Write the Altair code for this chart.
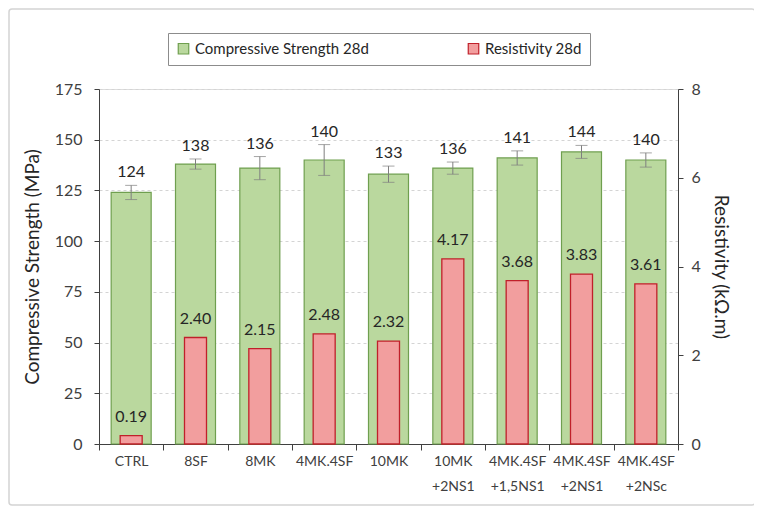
import altair as alt
import pandas as pd

categories = ["CTRL", "8SF", "8MK", "4MK.4SF", "10MK", "10MK +2NS1",
              "4MK.4SF +1,5NS1", "4MK.4SF +2NS1", "4MK.4SF +2NSc"]
strength = [124, 138, 136, 140, 133, 136, 141, 144, 140]
strength_err = [3.5, 2.5, 5.7, 7.6, 4.0, 3.0, 3.5, 3.2, 3.5]
resistivity = [0.19, 2.40, 2.15, 2.48, 2.32, 4.17, 3.68, 3.83, 3.61]
series = ["Compressive Strength 28d", "Resistivity 28d"]
left_ticks = [0, 25, 50, 75, 100, 125, 150, 175]
right_ticks = [0, 2, 4, 6, 8]

FILL = ["#bad89e", "#f29e9e"]
STROKE = ["#6f9f4f", "#c0202a"]
FONT = "Lato"
TXT = "#262626"
AX = "#404040"

W, H = 579, 355

df = pd.DataFrame({"cat": categories, "cs": strength, "err": strength_err, "res": resistivity})

x_enc = alt.X(
    "cat:N", sort=categories, title=None,
    scale=alt.Scale(paddingInner=0, paddingOuter=0),
    axis=alt.Axis(tickBand="extent", labelExpr="split(datum.label, ' ')",
                  labelAngle=0, labelFontSize=14, labelLineHeight=25,
                  labelColor=AX, labelPadding=4, tickSize=6, tickColor=AX,
                  domainColor=AX, labelOverlap=False, labelFont=FONT),
)

fill_scale = alt.Scale(domain=series, range=FILL)
stroke_scale = alt.Scale(domain=series, range=STROKE)
legend = alt.Legend(title=None, orient="none", legendX=69, legendY=-56,
                    direction="horizontal", strokeColor="#8c8c8c", padding=8,
                    symbolType="square", symbolSize=110, symbolStrokeWidth=1.2,
                    labelFontSize=15, labelFont=FONT, labelColor=TXT, labelLimit=400,
                    columnPadding=96, labelOffset=4)

ytitle_l = "Compressive Strength (MPa)"
y_left = alt.Scale(domain=[0, 175])

base_l = alt.Chart(df).transform_calculate(
    series=f"'{series[0]}'",
    lo="datum.cs - datum.err",
    hi="datum.cs + datum.err",
)

green = base_l.mark_bar(size=40, strokeWidth=1.2).encode(
    x=x_enc,
    y=alt.Y("cs:Q", scale=y_left, title=ytitle_l,
            axis=alt.Axis(values=left_ticks, grid=True, gridDash=[3, 3],
                          gridColor="#d4d4d4", labelFontSize=16, labelColor=AX,
                          labelFont=FONT, labelPadding=12, tickSize=5, tickColor=AX,
                          domainColor=AX, titleFontSize=19, titleFont=FONT,
                          titleFontWeight="normal", titleColor=TXT, titlePadding=12)),
    fill=alt.Fill("series:N", scale=fill_scale, legend=legend),
    stroke=alt.Stroke("series:N", scale=stroke_scale, legend=legend),
)
err_rule = base_l.mark_rule(color="#7f7f7f", strokeWidth=1).encode(
    x=x_enc, y=alt.Y("lo:Q", scale=y_left, title=ytitle_l), y2="hi:Q")
cap_hi = base_l.mark_tick(color="#7f7f7f", size=12, thickness=1).encode(
    x=x_enc, y=alt.Y("hi:Q", scale=y_left, title=ytitle_l))
cap_lo = base_l.mark_tick(color="#7f7f7f", size=12, thickness=1).encode(
    x=x_enc, y=alt.Y("lo:Q", scale=y_left, title=ytitle_l))
lab_l = base_l.mark_text(dy=-5, baseline="bottom", fontSize=16, font=FONT,
                         color=TXT).encode(
    x=x_enc, y=alt.Y("hi:Q", scale=y_left, title=ytitle_l), text="cs:Q")

left = alt.layer(green, err_rule, cap_hi, cap_lo, lab_l)

ytitle_r = "Resistivity (kΩ.m)"
y_right = alt.Scale(domain=[0, 8])
base_r = alt.Chart(df).transform_calculate(series=f"'{series[1]}'")
red = base_r.mark_bar(size=22, strokeWidth=1.3).encode(
    x=x_enc,
    y=alt.Y("res:Q", scale=y_right, title=ytitle_r,
            axis=alt.Axis(orient="right", values=right_ticks, grid=False,
                          labelFontSize=16, labelColor=AX, labelFont=FONT,
                          labelPadding=8, tickSize=5, tickColor=AX, domainColor=AX,
                          titleFontSize=19, titleFont=FONT, titleFontWeight="normal",
                          titleColor=TXT, titleAngle=90, titlePadding=10)),
    fill=alt.Fill("series:N", scale=fill_scale, legend=legend),
    stroke=alt.Stroke("series:N", scale=stroke_scale, legend=legend),
)
lab_r = base_r.mark_text(dy=-11, baseline="bottom", fontSize=16, font=FONT,
                         color=TXT).encode(
    x=x_enc, y=alt.Y("res:Q", scale=y_right, title=ytitle_r),
    text=alt.Text("res:Q", format=".2f"))
right = alt.layer(red, lab_r)

frame = alt.Chart(alt.Data(values=[{}])).mark_rect(
    fill="white", fillOpacity=0, stroke="#d4d4d4", strokeWidth=1.5, cornerRadius=3
).encode(x=alt.value(-90), x2=alt.value(656), y=alt.value(-80), y2=alt.value(416))

chart = alt.layer(frame, left, right).resolve_scale(y="independent").properties(
    width=W, height=H,
    autosize=alt.AutoSizeParams(type="none"),
    padding={"left": 91, "top": 81, "right": 76, "bottom": 63},
).configure_view(strokeWidth=0).configure(background="white")

chart.save("out.html", embed_options={"renderer": "svg", "actions": False})
